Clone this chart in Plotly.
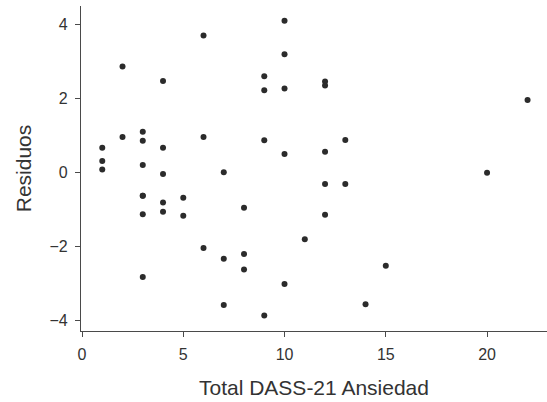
import plotly.graph_objects as go

# Total DASS-21 anxiety score and model residuals
ansiedad = [1, 1, 1,
            2, 2,
            3, 3, 3, 3, 3, 3, 3,
            4, 4, 4, 4, 4,
            5, 5,
            6, 6, 6,
            7, 7, 7,
            8, 8, 8,
            9, 9, 9, 9,
            10, 10, 10, 10, 10,
            11,
            12, 12, 12, 12, 12,
            13, 13,
            14, 15, 20, 22]
residuos = [0.66, 0.30, 0.07,
            2.85, 0.95,
            1.09, 0.85, 0.19, -0.64, -1.14, -2.83, -0.64,
            2.46, 0.66, -0.05, -0.82, -1.07,
            -0.69, -1.18,
            3.69, 0.95, -2.05,
            0.00, -2.34, -3.59,
            -0.96, -2.21, -2.63,
            2.59, 2.21, 0.86, -3.87,
            4.09, 3.18, 2.26, 0.49, -3.02,
            -1.81,
            2.45, 2.34, 0.55, -0.32, -1.15,
            0.87, -0.32,
            -3.57, -2.53, -0.02, 1.95]

x_ticks = [0, 5, 10, 15, 20]
y_ticks = [-4, -2, 0, 2, 4]

FONT = "Liberation Sans, Arial, Helvetica, sans-serif"
INK = "#333333"
AXIS = "#4a4a4a"

fig = go.Figure(
    go.Scatter(
        x=ansiedad,
        y=residuos,
        mode="markers",
        marker=dict(size=6, color="#2b2b2b"),
        hoverinfo="x+y",
    )
)

axis_common = dict(
    showgrid=False,
    zeroline=False,
    showline=True,
    linecolor=AXIS,
    linewidth=1.3,
    ticks="outside",
    ticklen=5,
    tickwidth=1.3,
    tickcolor=AXIS,
    tickfont=dict(family=FONT, size=16, color=INK),
)

fig.update_xaxes(
    range=[-0.05, 22.96],
    tickvals=x_ticks,
    ticklabelstandoff=4,
    title=dict(text="Total DASS-21 Ansiedad",
               font=dict(family=FONT, size=21, color=INK), standoff=17),
    **axis_common,
)
fig.update_yaxes(
    range=[-4.29, 4.486],
    tickvals=y_ticks,
    ticklabelstandoff=4,
    title=dict(text="Residuos",
               font=dict(family=FONT, size=21, color=INK), standoff=12),
    **axis_common,
)

fig.update_layout(
    width=547,
    height=402,
    margin=dict(l=81, r=0, t=6, b=71),
    paper_bgcolor="white",
    plot_bgcolor="white",
    showlegend=False,
)

fig.write_html("out.html")
